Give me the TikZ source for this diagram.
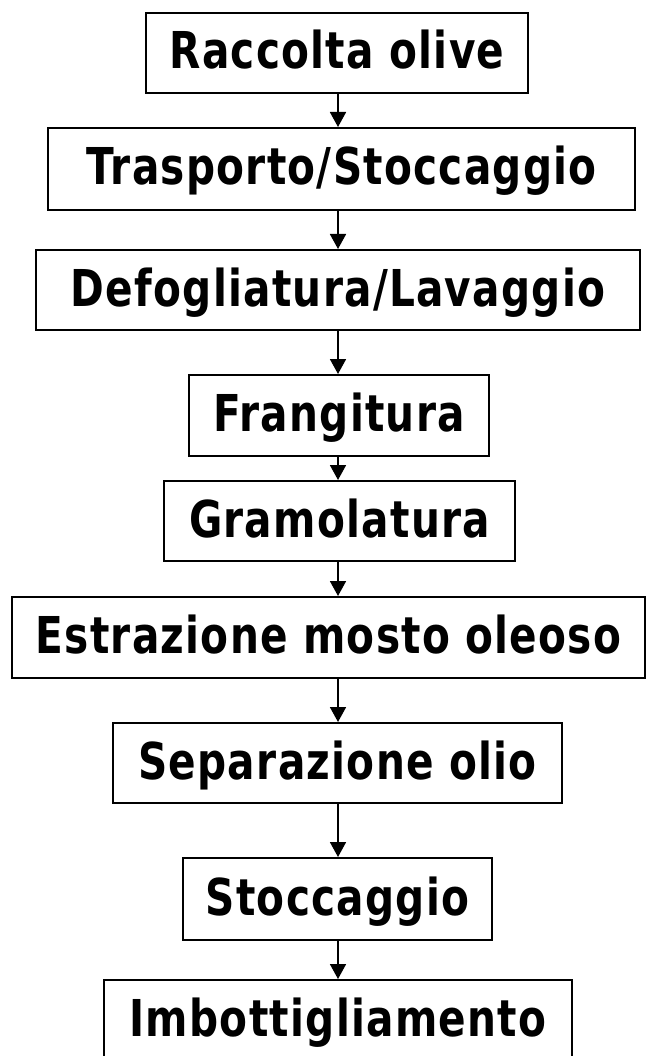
\documentclass[tikz,border=0pt]{standalone}
\usepackage{fontspec}
\newfontfamily\boxfont[FakeStretch=0.80,LetterSpace=2.5]{DejaVu Sans}
\usetikzlibrary{arrows.meta}
\tikzset{
  stepbox/.style={draw=black, line width=2pt, fill=white, inner sep=0pt,
    minimum height=80pt, text height=37pt, text depth=5pt,
    font=\boxfont\bfseries\fontsize{50.8pt}{60pt}\selectfont},
  flow/.style={line width=1.8pt, -{Triangle[width=16pt,length=15pt]}}
}
\begin{document}
\begin{tikzpicture}[x=1pt,y=-1pt]
\useasboundingbox (0,0) rectangle (649,1056);
\clip (0,0) rectangle (649,1056);
\node[stepbox, minimum width=382pt, minimum height=80pt] (b1) at (337,53) {Raccolta olive};
\node[stepbox, minimum width=587pt, minimum height=82pt] (b2) at (341.5,169) {Trasporto/Stoccaggio};
\node[stepbox, minimum width=604pt, minimum height=80pt] (b3) at (338,290) {Defogliatura/Lavaggio};
\node[stepbox, minimum width=300pt, minimum height=81pt] (b4) at (339,415.5) {Frangitura};
\node[stepbox, minimum width=351pt, minimum height=80pt] (b5) at (339.5,521) {Gramolatura};
\node[stepbox, minimum width=633pt, minimum height=81pt] (b6) at (328.5,637.5) {Estrazione mosto oleoso};
\node[stepbox, minimum width=449pt, minimum height=80pt] (b7) at (337.5,763) {Separazione olio};
\node[stepbox, minimum width=309pt, minimum height=82pt] (b8) at (337.5,899) {Stoccaggio};
\node[stepbox, minimum width=468pt, minimum height=80pt] (b9) at (338,1020) {Imbottigliamento};
\coordinate (ax) at (338,0);
\foreach \a/\b in {b1/b2,b2/b3,b3/b4,b4/b5,b5/b6,b6/b7,b7/b8,b8/b9}{
  \draw[flow] (ax |- \a.south) -- (ax |- \b.north);
}
\end{tikzpicture}
\end{document}
